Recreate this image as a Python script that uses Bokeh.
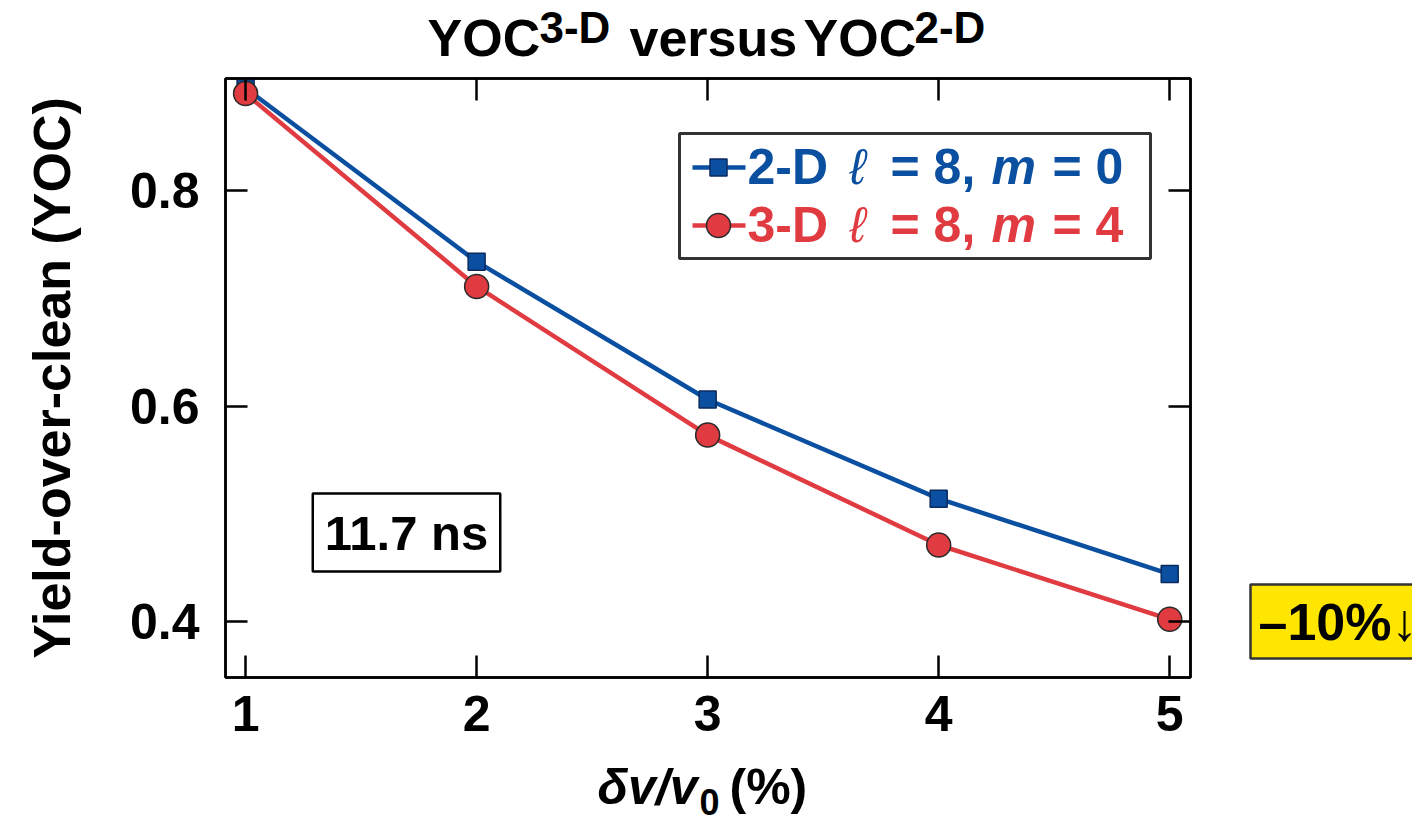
from bokeh.plotting import figure
from bokeh.models import Label, BoxAnnotation, LinearAxis, FixedTicker, Range1d
from bokeh.layouts import column, row
from bokeh.embed import file_html
from bokeh.resources import INLINE

# ---- data ----
dv = [1, 2, 3, 4, 5]
yoc_2d = [0.895, 0.734, 0.606, 0.514, 0.444]
yoc_3d = [0.890, 0.711, 0.573, 0.471, 0.402]
x_ticks = [1, 2, 3, 4, 5]
x_tick_labels = ["1", "2", "3", "4", "5"]
y_ticks = [0.4, 0.6, 0.8]
y_tick_labels = ["0.4", "0.6", "0.8"]
series_2d_label = ["2-D ", "\u2113", "= 8,", "m", "= 0"]
series_3d_label = ["3-D ", "\u2113", "= 8,", "m", "= 4"]
title_pieces = ["YOC", "3-D", "versus", "YOC", "2-D"]
xlabel_pieces = ["\u03b4v/v", "0", "(%)"]
y_label = "Yield-over-clean (YOC)"
time_note = "11.7 ns"
change_note = "\u201310%\u2193"

BLUE = "#0B4FA0"
RED = "#E13B42"
FONT = "Liberation Sans"

# ---- page geometry (pixels) ----
W, H = 1412, 821
TITLE_H = 70            # title strip height
XLAB_TOP = 756          # x-label strip starts here
MAIN_W = 1240           # main figure width; side strip to the right
FL, FT, FW, FH = 225, 78, 965, 599   # plot frame on the page
X0, X1 = 0.913, 5.09
Y0, Y1 = 0.348, 0.904


def px_x(px):
    return X0 + (px - FL) * (X1 - X0) / FW


def px_y(py):
    return Y1 - (py - FT) * (Y1 - Y0) / FH


def strip(width, x_lo, x_hi, y_top, y_bot):
    """A blank figure whose frame fills it; x data = page px, y data = px above strip bottom."""
    f = figure(width=width, height=y_bot - y_top, x_range=Range1d(x_lo, x_hi),
               y_range=Range1d(0, y_bot - y_top), output_backend="svg", toolbar_location=None,
               x_axis_location=None, y_axis_location=None,
               min_border_left=0, min_border_right=0, min_border_top=0, min_border_bottom=0)
    f.xgrid.visible = False
    f.ygrid.visible = False
    f.outline_line_color = None
    f.background_fill_color = "white"
    f.border_fill_color = "white"
    return f


# ---- main figure ----
main_h = XLAB_TOP - TITLE_H
p = figure(width=MAIN_W, height=main_h, x_range=Range1d(X0, X1), y_range=Range1d(Y0, Y1),
           output_backend="svg", toolbar_location=None,
           min_border_left=FL, min_border_right=MAIN_W - FL - FW,
           min_border_top=FT - TITLE_H, min_border_bottom=main_h - (FT - TITLE_H) - FH)
p.xgrid.visible = False
p.ygrid.visible = False
p.outline_line_color = "black"
p.outline_line_width = 2.5
p.background_fill_color = "white"
p.border_fill_color = "white"

xt = FixedTicker(ticks=x_ticks)
yt = FixedTicker(ticks=y_ticks)


def style_axis(ax, show_labels):
    ax.major_tick_in = 22
    ax.major_tick_out = 0
    ax.minor_tick_in = 0
    ax.minor_tick_out = 0
    ax.major_tick_line_color = "black"
    ax.major_tick_line_width = 2.5
    ax.axis_line_color = "black"
    ax.axis_line_width = 2.5
    ax.major_label_text_font = FONT
    ax.major_label_text_font_style = "bold"
    if show_labels:
        ax.major_label_text_color = "black"
        ax.major_label_text_font_size = "50px"
    else:
        ax.major_label_text_color = None
        ax.major_label_text_font_size = "1px"
        ax.major_label_standoff = 0


p.xaxis.ticker = xt
p.yaxis.ticker = yt
p.xaxis.major_label_overrides = {t: s for t, s in zip(x_ticks, x_tick_labels)}
p.yaxis.major_label_overrides = {t: s for t, s in zip(y_ticks, y_tick_labels)}
style_axis(p.xaxis[0], True)
style_axis(p.yaxis[0], True)
p.xaxis.major_label_standoff = 18
p.yaxis.major_label_standoff = 26
p.yaxis.axis_label = y_label
p.yaxis.axis_label_text_font = FONT
p.yaxis.axis_label_text_font_style = "bold"
p.yaxis.axis_label_text_font_size = "52px"
p.yaxis.axis_label_text_color = "black"
p.yaxis.axis_label_standoff = 46

top_ax = LinearAxis(ticker=xt)
right_ax = LinearAxis(ticker=yt)
style_axis(top_ax, False)
style_axis(right_ax, False)
p.add_layout(top_ax, "above")
p.add_layout(right_ax, "right")

# data series
p.line(dv, yoc_2d, line_color=BLUE, line_width=4.5)
p.line(dv, yoc_3d, line_color=RED, line_width=4.5)
p.scatter(dv, yoc_2d, marker="square", size=17, fill_color=BLUE,
          line_color="#0A2A5E", line_width=1.5)
p.scatter(dv, yoc_3d, marker="circle", size=24, fill_color=RED,
          line_color="#2A2A2A", line_width=1.5)

# legend (manual, mixed font styles); y values are text centre lines
p.add_layout(BoxAnnotation(left=px_x(679), right=px_x(1150), top=px_y(133), bottom=px_y(258),
                           fill_color="white", fill_alpha=1.0, line_color="#333333",
                           line_alpha=1.0, line_width=3, level="underlay"))
rows = [(167, BLUE, "square", 17, "#0A2A5E", series_2d_label),
        (225, RED, "circle", 24, "#2A2A2A", series_3d_label)]
piece_x = [747, 849, 890, 991, 1052]
piece_style = ["bold", "italic", "bold", "bold italic", "bold"]
for key_y, col, mk, sz, edge, pieces in rows:
    p.line([px_x(692), px_x(745)], [px_y(key_y), px_y(key_y)], line_color=col,
           line_width=4.5, level="overlay")
    p.scatter([px_x(718)], [px_y(key_y)], marker=mk, size=sz, fill_color=col,
              line_color=edge, line_width=1.5, level="overlay")
    for txt, xx, st in zip(pieces, piece_x, piece_style):
        p.add_layout(Label(x=px_x(xx), y=px_y(key_y - 1), text=txt, text_font=FONT,
                           text_font_size="50px", text_font_style=st, text_color=col,
                           text_align="left", text_baseline="middle"))

p.add_layout(Label(x=px_x(406), y=px_y(532), text=time_note, text_font=FONT,
                   text_font_size="49px", text_font_style="bold", text_color="black",
                   text_align="center", text_baseline="middle",
                   background_fill_color="white", border_line_color="black",
                   border_line_width=2.5, padding=12))

# ---- title strip (page y 0..TITLE_H) ----
tf = strip(W, 0, W, 0, TITLE_H)
title_pos = [(427, 37, "52px"), (539, 27, "44px"), (629, 37, "52px"),
             (803, 37, "52px"), (914, 27, "44px")]
for txt, (xx, yy, fs) in zip(title_pieces, title_pos):
    tf.add_layout(Label(x=xx, y=TITLE_H - yy, text=txt, text_font=FONT, text_font_size=fs,
                        text_font_style="bold", text_color="black",
                        text_align="left", text_baseline="middle"))

# ---- side strip (right of the plot) ----
sf = strip(W - MAIN_W, MAIN_W, W, TITLE_H, XLAB_TOP)
sf.add_layout(Label(x=1250, y=64, text=change_note, text_font=FONT,
                    text_font_size="52px", text_font_style="bold", text_color="black",
                    text_align="left", text_baseline="middle",
                    background_fill_color="#FFE600", border_line_color="#333333",
                    border_line_width=2.5, padding=8))

# ---- x-label strip (page y XLAB_TOP..821) ----
xf = strip(W, 0, W, XLAB_TOP, H)
xlab_pos = [(597, 786, "50px", "bold italic"), (699, 801, "36px", "bold"),
            (729, 786, "50px", "bold")]
for txt, (xx, yy, fs, st) in zip(xlabel_pieces, xlab_pos):
    xf.add_layout(Label(x=xx, y=H - yy, text=txt, text_font=FONT, text_font_size=fs,
                        text_font_style=st, text_color="black",
                        text_align="left", text_baseline="middle"))

layout = column(tf, row(p, sf), xf)
open("out.html", "w").write(file_html(layout, INLINE))
